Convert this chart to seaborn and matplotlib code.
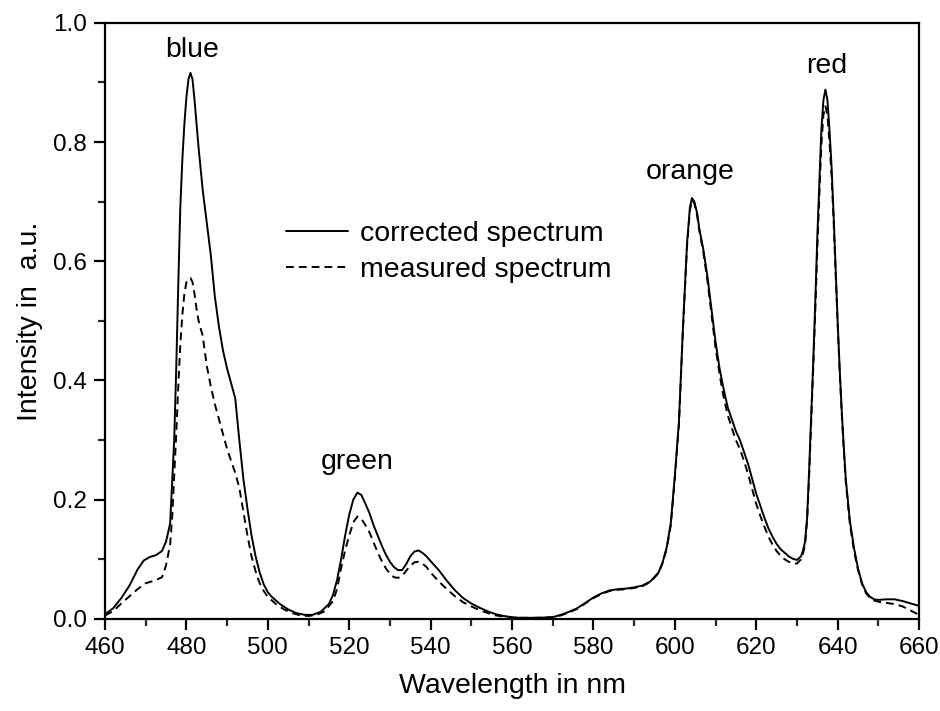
import matplotlib
matplotlib.use("Agg")
import matplotlib.pyplot as plt
from matplotlib.ticker import MultipleLocator
import seaborn as sns

# Wavelength grid (nm) and intensities (a.u.) of the corrected spectrum
wl_corrected = [460, 462, 464, 466, 468, 469.5, 471, 472.5, 474, 475, 476, 477, 477.5, 478,
                478.5, 479, 479.5, 480, 480.5, 481, 481.5, 482, 482.5, 483, 484, 485, 486,
                487, 488, 489, 490, 491, 492, 493, 494, 495, 496, 497, 498, 499, 500, 501,
                503, 505, 507, 509, 511, 513, 515, 516, 517, 518, 519, 520, 521, 522, 523,
                524, 525, 526, 527, 528, 529, 530, 531, 532, 533, 534, 535, 536, 537, 538,
                539, 540, 542, 544, 546, 548, 550, 552, 554, 556, 558, 560, 562, 566, 570,
                572, 574, 576, 578, 580, 582, 584, 586, 588, 590, 592, 594, 596, 597, 598,
                599, 600, 601, 602, 603, 603.7, 604.2, 604.8, 605.5, 606, 607, 608, 609, 610,
                611, 612, 613, 614, 615, 616, 617, 618, 619, 620, 621, 622, 623, 624, 625,
                626, 627, 628, 629, 630, 631, 631.5, 632, 632.5, 633, 633.5, 634, 634.5, 635,
                635.5, 636, 636.5, 637, 637.5, 638, 638.5, 639, 639.5, 640, 640.5, 641,
                641.5, 642, 642.5, 643, 644, 645, 646, 647, 648, 649, 650, 652, 654, 656,
                658, 660]
corrected = [0.008, 0.018, 0.035, 0.056, 0.083, 0.098, 0.104, 0.107, 0.114, 0.13, 0.16, 0.30,
             0.42, 0.56, 0.69, 0.77, 0.83, 0.875, 0.905, 0.916, 0.905, 0.87, 0.83, 0.79,
             0.72, 0.665, 0.61, 0.54, 0.49, 0.45, 0.42, 0.395, 0.37, 0.30, 0.235, 0.185,
             0.14, 0.105, 0.078, 0.058, 0.045, 0.037, 0.025, 0.016, 0.010, 0.007, 0.007,
             0.012, 0.025, 0.04, 0.065, 0.10, 0.14, 0.175, 0.200, 0.212, 0.208, 0.193,
             0.177, 0.157, 0.140, 0.123, 0.108, 0.096, 0.087, 0.082, 0.082, 0.092, 0.105,
             0.113, 0.115, 0.111, 0.105, 0.097, 0.082, 0.064, 0.048, 0.035, 0.026, 0.019,
             0.013, 0.008, 0.005, 0.003, 0.002, 0.002, 0.003, 0.007, 0.012, 0.018, 0.027,
             0.036, 0.043, 0.048, 0.050, 0.051, 0.053, 0.056, 0.063, 0.078, 0.095, 0.12,
             0.16, 0.24, 0.33, 0.49, 0.63, 0.69, 0.706, 0.70, 0.68, 0.655, 0.62, 0.575,
             0.52, 0.465, 0.42, 0.385, 0.355, 0.335, 0.315, 0.30, 0.28, 0.26, 0.235, 0.21,
             0.19, 0.17, 0.152, 0.138, 0.126, 0.117, 0.111, 0.105, 0.101, 0.099, 0.105,
             0.115, 0.13, 0.17, 0.25, 0.34, 0.43, 0.53, 0.64, 0.73, 0.82, 0.87, 0.888,
             0.87, 0.82, 0.76, 0.68, 0.59, 0.50, 0.42, 0.35, 0.29, 0.235, 0.20, 0.165,
             0.12, 0.085, 0.06, 0.045, 0.037, 0.033, 0.032, 0.033, 0.033, 0.030, 0.026,
             0.022]

# Wavelength grid (nm) and intensities (a.u.) of the measured spectrum
wl_measured = [460, 462, 464, 466, 468, 470, 472, 474, 475, 476, 476.5, 477, 477.5, 478,
               478.5, 479, 479.5, 480, 481, 481.5, 482, 482.5, 483, 484, 485, 486, 487,
               488, 489, 490, 491, 492, 493, 494, 495, 496, 497, 498, 499, 500, 502, 504,
               506, 508, 510, 512, 514, 516, 517, 518, 519, 520, 521, 522, 523, 524, 525,
               526, 527, 528, 529, 530, 531, 532, 533, 534, 535, 536, 537, 538, 539, 540,
               542, 544, 546, 548, 550, 552, 554, 556, 558, 560, 566, 570, 572, 574, 576,
               578, 580, 582, 584, 586, 588, 590, 592, 594, 596, 597, 598, 599, 600, 601,
               602, 603, 603.7, 604.2, 604.8, 605.5, 606, 607, 608, 609, 610, 611, 612,
               613, 614, 615, 616, 617, 618, 619, 620, 621, 622, 623, 624, 625, 626, 627,
               628, 629, 630, 631, 631.5, 632, 632.5, 633, 633.5, 634, 634.5, 635, 635.5,
               636, 636.5, 637, 637.5, 638, 638.5, 639, 639.5, 640, 640.5, 641, 641.5,
               642, 642.5, 643, 644, 645, 646, 647, 648, 649, 650, 652, 654, 656, 658, 660]
measured = [0.006, 0.013, 0.026, 0.038, 0.050, 0.060, 0.064, 0.070, 0.09, 0.125, 0.17,
            0.24, 0.31, 0.39, 0.46, 0.51, 0.545, 0.565, 0.572, 0.565, 0.545, 0.52, 0.50,
            0.475, 0.425, 0.39, 0.36, 0.335, 0.31, 0.285, 0.265, 0.245, 0.22, 0.18, 0.14,
            0.105, 0.08, 0.06, 0.047, 0.037, 0.025, 0.016, 0.010, 0.006, 0.005, 0.007,
            0.013, 0.03, 0.05, 0.085, 0.115, 0.14, 0.162, 0.172, 0.168, 0.157, 0.145,
            0.128, 0.112, 0.097, 0.085, 0.076, 0.070, 0.069, 0.072, 0.081, 0.089, 0.095,
            0.096, 0.093, 0.087, 0.078, 0.063, 0.050, 0.038, 0.028, 0.021, 0.015, 0.010,
            0.006, 0.004, 0.002, 0.002, 0.003, 0.006, 0.011, 0.017, 0.026, 0.035, 0.042,
            0.047, 0.049, 0.050, 0.052, 0.055, 0.062, 0.077, 0.094, 0.118, 0.157, 0.236,
            0.325, 0.485, 0.625, 0.685, 0.702, 0.697, 0.676, 0.652, 0.615, 0.568, 0.512,
            0.455, 0.41, 0.372, 0.342, 0.32, 0.30, 0.285, 0.265, 0.243, 0.218, 0.193,
            0.173, 0.155, 0.138, 0.125, 0.114, 0.106, 0.100, 0.096, 0.093, 0.093, 0.100,
            0.11, 0.125, 0.165, 0.24, 0.33, 0.42, 0.515, 0.62, 0.71, 0.795, 0.845, 0.86,
            0.845, 0.80, 0.745, 0.67, 0.58, 0.495, 0.415, 0.345, 0.285, 0.23, 0.195, 0.16,
            0.115, 0.082, 0.058, 0.043, 0.035, 0.031, 0.029, 0.027, 0.025, 0.021, 0.014,
            0.007]

# Peak names and where they are written (wavelength, intensity)
peak_names = ["blue", "green", "orange", "red"]
peak_label_x = [481.4, 521.9, 603.7, 637.2]
peak_label_y = [0.955, 0.263, 0.750, 0.928]

sns.set_theme(style="ticks")
plt.rcParams["font.family"] = ["Liberation Sans", "DejaVu Sans"]

fig = plt.figure(figsize=(9.4, 7.11), dpi=100)
ax = fig.add_axes([0.1117, 0.1294, 0.8660, 0.8386])

sns.lineplot(x=wl_corrected, y=corrected, ax=ax, color="black", linewidth=1.4,
             estimator=None, sort=False, label="corrected spectrum")
sns.lineplot(x=wl_measured, y=measured, ax=ax, color="black", linewidth=1.4,
             estimator=None, sort=False, label="measured spectrum")
ax.lines[1].set_dashes((4.0, 2.6))

for name, px, py in zip(peak_names, peak_label_x, peak_label_y):
    ax.text(px, py, name, ha="center", va="center", fontsize=20.5, color="black")

ax.set_xlim(460, 660)
ax.set_ylim(0.0, 1.0)
ax.xaxis.set_major_locator(MultipleLocator(20))
ax.xaxis.set_minor_locator(MultipleLocator(10))
ax.yaxis.set_major_locator(MultipleLocator(0.2))
ax.yaxis.set_minor_locator(MultipleLocator(0.1))
ax.yaxis.set_major_formatter(plt.FormatStrFormatter("%.1f"))

ax.tick_params(axis="both", which="major", direction="out", length=8, width=1.6,
               labelsize=17.5, colors="black", pad=5,
               bottom=True, left=True, top=False, right=False)
ax.tick_params(axis="both", which="minor", direction="out", length=5, width=1.6,
               bottom=True, left=True, top=False, right=False)
for side in ["top", "right", "bottom", "left"]:
    ax.spines[side].set_visible(True)
    ax.spines[side].set_linewidth(1.6)
    ax.spines[side].set_color("black")

ax.set_xlabel("Wavelength in nm", fontsize=20.5, color="black", labelpad=10)
ax.set_ylabel("Intensity in  a.u.", fontsize=20.5, color="black", labelpad=7)

leg = ax.legend(loc="upper left", bbox_to_anchor=(0.222, 0.668), frameon=False,
                fontsize=20.5, handlelength=2.2, handletextpad=0.4,
                labelspacing=0.36, borderpad=0, borderaxespad=0)
for text in leg.get_texts():
    text.set_color("black")
for line in leg.get_lines():
    line.set_linewidth(1.4)
leg.get_lines()[1].set_dashes((4.0, 2.6))

fig.savefig("out.png", dpi=100)
